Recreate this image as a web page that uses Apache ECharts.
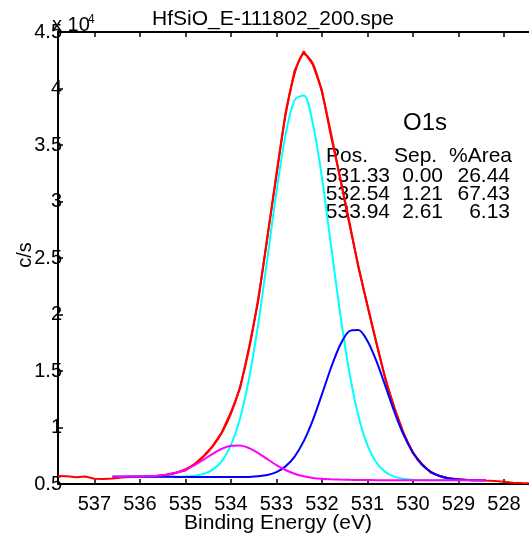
<!DOCTYPE html>
<html>
<head>
<meta charset="utf-8">
<script src="https://cdn.jsdelivr.net/npm/echarts@6/dist/echarts.min.js"></script>
<style>
html, body { margin: 0; padding: 0; background: #fff; }
#main { width: 529px; height: 535px; }
</style>
</head>
<body>
<div id="main"></div>
<script>
// binding energy (eV) of the fitted envelope and its components
var fitEnergy = [536.6, 536.4, 536.2, 536.0, 535.8, 535.6, 535.4, 535.2, 535.0, 534.8,
  534.6, 534.4, 534.2, 534.0, 533.8, 533.6, 533.4, 533.2, 533.0, 532.8,
  532.6, 532.4, 532.2, 532.0, 531.8, 531.6, 531.4, 531.2, 531.0, 530.8,
  530.6, 530.4, 530.2, 530.0, 529.8, 529.6, 529.4, 529.2, 529.0, 528.8,
  528.6, 528.4];

// counts in units of 10^4 c/s
var fitCounts = [0.565, 0.565, 0.566, 0.565, 0.568, 0.573, 0.583, 0.600, 0.631, 0.677,
  0.743, 0.832, 0.953, 1.122, 1.361, 1.698, 2.142, 2.676, 3.247, 3.764,
  4.133, 4.305, 4.221, 3.965, 3.602, 3.202, 2.808, 2.431, 2.075, 1.739,
  1.429, 1.159, 0.941, 0.781, 0.671, 0.605, 0.568, 0.549, 0.540, 0.536,
  0.534, 0.534];

var cyanCounts = [0.565, 0.565, 0.565, 0.564, 0.564, 0.564, 0.564, 0.564, 0.567, 0.574,
  0.590, 0.627, 0.703, 0.844, 1.080, 1.437, 1.918, 2.491, 3.084, 3.590,
  3.899, 3.939, 3.689, 3.210, 2.611, 2.009, 1.493, 1.104, 0.844, 0.688,
  0.604, 0.563, 0.545, 0.538, 0.535, 0.534, 0.534, 0.534, 0.534, 0.534,
  0.534, 0.534];

var blueCounts = [0.565, 0.565, 0.565, 0.564, 0.564, 0.564, 0.564, 0.563, 0.563, 0.563,
  0.563, 0.562, 0.562, 0.561, 0.562, 0.563, 0.568, 0.579, 0.605, 0.656,
  0.743, 0.879, 1.066, 1.293, 1.529, 1.730, 1.852, 1.863, 1.766, 1.585,
  1.359, 1.130, 0.930, 0.777, 0.670, 0.605, 0.568, 0.549, 0.540, 0.536,
  0.534, 0.534];

var magentaCounts = [0.565, 0.565, 0.566, 0.565, 0.568, 0.573, 0.582, 0.599, 0.627, 0.667,
  0.716, 0.767, 0.812, 0.838, 0.841, 0.817, 0.774, 0.720, 0.668, 0.624,
  0.591, 0.568, 0.554, 0.546, 0.542, 0.539, 0.537, 0.536, 0.535, 0.534,
  0.534, 0.534, 0.534, 0.534, 0.534, 0.534, 0.534, 0.534, 0.534, 0.534,
  0.534, 0.534];

// measured spectrum
var rawEnergy = [537.8, 537.6, 537.4, 537.2, 537.0, 536.8, 536.6, 536.4, 536.2, 536.0,
  535.8, 535.6, 535.4, 535.2, 535.0, 534.8, 534.6, 534.4, 534.2, 534.0,
  533.8, 533.6, 533.4, 533.2, 533.0, 532.8, 532.6, 532.4, 532.2, 532.0,
  531.8, 531.6, 531.4, 531.2, 531.0, 530.8, 530.6, 530.4, 530.2, 530.0,
  529.8, 529.6, 529.4, 529.2, 529.0, 528.8, 528.6, 528.4, 528.2, 528.0,
  527.8, 527.6, 527.4];

var rawCounts = [0.571, 0.568, 0.560, 0.566, 0.547, 0.545, 0.549, 0.558, 0.563, 0.566,
  0.565, 0.571, 0.584, 0.601, 0.620, 0.675, 0.748, 0.838, 0.958, 1.135,
  1.345, 1.712, 2.118, 2.685, 3.225, 3.785, 4.160, 4.330, 4.210, 3.985,
  3.575, 3.215, 2.825, 2.418, 2.085, 1.748, 1.415, 1.168, 0.946, 0.772,
  0.678, 0.598, 0.570, 0.550, 0.543, 0.536, 0.534, 0.530, 0.527, 0.520,
  0.512, 0.508, 0.507];

// tick values of the energy axis
var energyTicks = [528, 529, 530, 531, 532, 533, 534, 535, 536, 537];

// peak table
var peakPos = ['531.33', '532.54', '533.94'];
var peakSep = ['0.00', '1.21', '2.61'];
var peakArea = ['26.44', '67.43', '6.13'];

var FONT = "'Liberation Sans', Arial, Helvetica, sans-serif";

function pairs(xs, ys) {
  return xs.map(function (x, i) { return [x, ys[i]]; });
}

function txt(str, x, y, size, align, extra) {
  var el = {
    type: 'text', x: x, y: y, silent: true,
    style: { text: str, fill: '#000', fontSize: size, fontFamily: FONT,
      align: align || 'left', verticalAlign: 'middle' }
  };
  if (extra) { for (var k in extra) el[k] = extra[k]; }
  return el;
}

var dom = document.getElementById('main');
var myChart = echarts.init(dom);

var graphics = [
  txt('HfSiO_E-111802_200.spe', 273, 19, 21, 'center'),
  txt('x 10', 52, 25, 20, 'left'),
  txt('4', 88, 20, 12, 'left'),
  txt('c/s', 25, 255, 20, 'center', { rotation: Math.PI / 2 }),
  txt('Binding Energy (eV)', 278, 523, 21, 'center'),
  txt('O1s', 425, 123, 24, 'center'),
  txt('Pos.', 326, 156, 21, 'left'),
  txt('Sep.', 394, 156, 21, 'left'),
  txt('%Area', 449, 156, 21, 'left')
];
var rowY = [176, 194, 212];
for (var i = 0; i < peakPos.length; i++) {
  graphics.push(txt(peakPos[i], 390, rowY[i], 21, 'right'));
  graphics.push(txt(peakSep[i], 443, rowY[i], 21, 'right'));
  graphics.push(txt(peakArea[i], 510, rowY[i], 21, 'right'));
}

// visible window: 537.8 eV at the left axis, 527.45 eV at the right edge
function xAx(pos) {
  return {
    type: 'value', position: pos, min: 527.45, max: 537.8, inverse: true,
    axisLine: { onZero: false, lineStyle: { color: '#000', width: 2 } },
    axisTick: { inside: true, length: 5, customValues: energyTicks,
      lineStyle: { color: '#000', width: 1.5 } },
    axisLabel: { show: pos === 'bottom', color: '#000', fontSize: 20, fontFamily: FONT,
      margin: 10, customValues: energyTicks },
    splitLine: { show: false }
  };
}

var option = {
  backgroundColor: '#fff',
  animation: false,
  grid: { left: 58, top: 32, right: 0, bottom: 51 },
  xAxis: [xAx('bottom'), xAx('top')],
  yAxis: {
    type: 'value', min: 0.5, max: 4.5, interval: 0.5,
    axisLine: { show: true, lineStyle: { color: '#000', width: 2 } },
    axisTick: { show: true, inside: true, length: 5, lineStyle: { color: '#000', width: 1.5 } },
    axisLabel: { color: '#000', fontSize: 20, fontFamily: FONT, margin: -4 },
    splitLine: { show: false }
  },
  graphic: graphics,
  series: [
    { name: 'raw', type: 'line', data: pairs(rawEnergy, rawCounts), showSymbol: false,
      lineStyle: { color: '#ff0000', width: 2 } },
    { name: 'fit', type: 'line', data: pairs(fitEnergy, fitCounts), showSymbol: false, smooth: 0.3,
      lineStyle: { color: '#ff0000', width: 2 } },
    { name: '532.54', type: 'line', data: pairs(fitEnergy, cyanCounts), showSymbol: false, smooth: 0.3,
      lineStyle: { color: '#00ffff', width: 2 } },
    { name: '531.33', type: 'line', data: pairs(fitEnergy, blueCounts), showSymbol: false, smooth: 0.3,
      lineStyle: { color: '#0000ff', width: 2 } },
    { name: '533.94', type: 'line', data: pairs(fitEnergy, magentaCounts), showSymbol: false, smooth: 0.3,
      lineStyle: { color: '#ff00ff', width: 2 } }
  ]
};

window.onresize = function () {
  myChart.resize();
};

if (option && typeof option === 'object') {
  myChart.setOption(option);
}
</script>
</body>
</html>
